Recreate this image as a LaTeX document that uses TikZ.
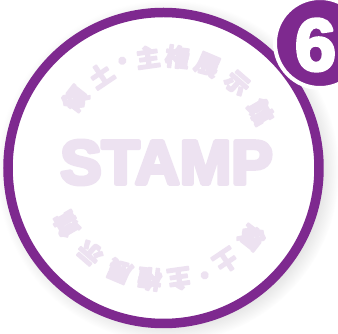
\documentclass[tikz,border=0pt]{standalone}
\usepackage{fontspec}
\usepackage{xcolor}
\usetikzlibrary{shadows}
\newfontfamily\cjkfont{Noto Sans CJK JP}
\newfontfamily\stampfont{Liberation Sans}
\definecolor{stampPurple}{RGB}{126,41,143}
\definecolor{stampLilac}{RGB}{237,226,241}
\newcommand{\heavytext}[2]{\special{pdf:literal 2 Tr 1 j #1 w}#2\special{pdf:literal 0 Tr 0 j}}

\tikzset{
    arcchar/.style={inner sep=0pt, text=stampLilac, font=\cjkfont\bfseries\fontsize{24}{24}\selectfont},
}

\begin{document}
\begin{tikzpicture}[x=1pt, y=1pt]
    \useasboundingbox (-163.5,-166) rectangle (174.5,168);

    % Ring of the stamp
    \node[draw=stampPurple, fill=white, circle, line width=9.5pt, inner sep=0pt, minimum size=311pt,
          circular drop shadow={shadow xshift=4pt, shadow yshift=-3pt, shadow scale=1.1, opacity=0.3}] (Ring) at (0,0) {};

    % Title word
    \node[inner sep=0pt, text=stampLilac, font=\stampfont\bfseries\fontsize{62}{62}\selectfont] (Stamp) at (3,5.5) {\heavytext{4}{STAMP}};

    % Arc texts, upper and turned lower
    \foreach \ch/\ang in {領/142, 土/124, ・/111, 主/98, 権/83, 展/67, 示/49, 館/30} {
        \node[arcchar, rotate=\ang-90] (top-\ang) at (\ang:112) {\heavytext{1.4}{\ch}};
        \node[arcchar, rotate=\ang+90] (bot-\ang) at (\ang+180:112) {\heavytext{1.4}{\ch}};
    }

    % Number badge
    \node[circle, fill=stampPurple, draw=white, line width=4pt, inner sep=0pt, minimum size=90pt] (Badge) at (156.5,125) {};
    \node[inner sep=0pt, text=white, font=\stampfont\bfseries\fontsize{74}{74}\selectfont] (Number) at (152,123) {\heavytext{3}{6}};
\end{tikzpicture}
\end{document}
